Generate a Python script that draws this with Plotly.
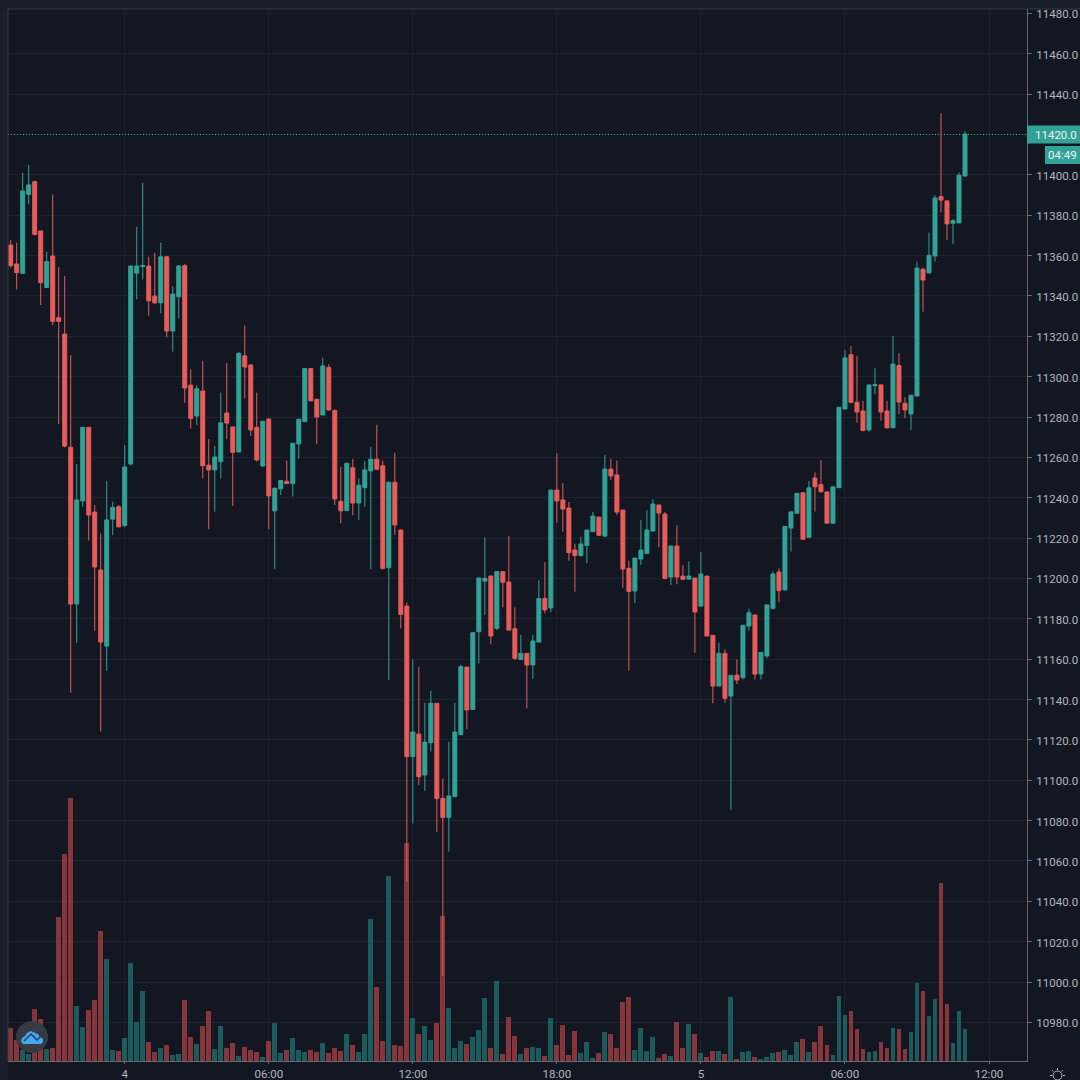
import pandas as pd
import plotly.graph_objects as go

# 15-minute candles, first bar at 2020-08-03 19:15
start = "2020-08-03 19:15"
opens = [11365.2,11355.8,11351.2,11390.3,11396.6,11372.2,11344.2,11359.8,11329.2,11321.1,
11265.0,11187.3,11238.4,11274.9,11232.9,11204.2,11166.5,11229.4,11235.5,11226.3,
11256.7,11351.3,11354.5,11354.8,11339.9,11336.6,11359.4,11322.6,11339.6,11355.0,
11295.8,11280.5,11292.9,11256.1,11253.8,11257.9,11282.0,11275.1,11262.7,11310.3,
11305.8,11274.9,11255.7,11279.0,11233.5,11244.4,11248.2,11247.0,11266.7,11277.7,
11304.0,11288.8,11281.0,11304.5,11283.2,11238.2,11233.6,11254.8,11237.4,11245.0,
11253.3,11259.1,11255.8,11205.3,11247.7,11224.0,11186.3,11111.7,11122.9,11102.6,
11118.6,11138.1,11091.0,11081.6,11091.9,11122.6,11156.1,11135.1,11173.6,11198.7,
11201.2,11175.3,11203.4,11198.2,11175.1,11159.9,11162.9,11157.1,11168.5,11190.1,
11185.4,11243.8,11238.9,11234.9,11214.1,11211.4,11216.4,11223.2,11230.4,11221.0,
11254.2,11251.3,11233.9,11205.0,11193.8,11209.6,11212.4,11223.5,11236.4,11231.9,
11200.7,11216.1,11201.2,11199.7,11200.2,11186.3,11201.2,11171.8,11146.7,11162.9,
11141.7,11152.1,11150.8,11176.4,11181.9,11152.7,11161.6,11185.2,11203.2,11194.3,
11225.0,11232.3,11242.5,11220.4,11249.8,11246.5,11242.9,11227.4,11245.0,11284.0,
11310.9,11287.3,11283.0,11273.6,11295.5,11295.9,11283.0,11274.7,11305.5,11286.8,
11281.5,11290.4,11353.2,11351.4,11359.8,11389.2,11387.1,11376.0,11376.2,11399.4]
highs = [11367.7,11366.4,11401.0,11404.9,11397.1,11372.2,11362.0,11390.3,11354.2,11349.9,
11310.7,11256.7,11275.0,11275.0,11236.4,11222.3,11248.4,11238.0,11236.4,11266.1,
11355.0,11374.3,11396.1,11359.4,11361.4,11366.4,11359.6,11344.9,11355.3,11355.8,
11303.6,11295.7,11307.9,11269.1,11265.7,11292.1,11306.6,11275.1,11312.1,11325.3,
11306.1,11292.1,11278.0,11279.2,11245.0,11248.8,11258.4,11267.1,11279.0,11304.2,
11304.2,11288.8,11309.4,11306.1,11283.8,11255.4,11257.2,11259.2,11249.5,11258.2,
11265.3,11276.1,11258.4,11247.9,11262.4,11224.3,11188.0,11159.9,11156.3,11138.4,
11144.4,11138.2,11100.9,11119.1,11138.4,11157.1,11156.2,11173.2,11200.3,11220.4,
11201.3,11203.5,11203.5,11221.0,11185.7,11172.0,11163.0,11172.0,11199.2,11208.0,
11244.0,11262.0,11247.1,11237.9,11217.1,11220.7,11224.1,11232.9,11230.5,11261.2,
11259.2,11258.4,11234.0,11208.8,11210.2,11229.0,11233.9,11239.2,11236.5,11232.9,
11216.2,11226.3,11206.5,11208.5,11200.3,11213.1,11201.3,11171.9,11168.2,11164.9,
11152.1,11159.9,11176.9,11185.0,11182.0,11163.4,11187.0,11203.4,11205.0,11225.8,
11233.1,11242.3,11242.6,11248.3,11252.5,11258.7,11243.0,11245.5,11284.9,11313.2,
11315.2,11310.3,11288.0,11296.0,11304.2,11296.0,11288.0,11320.2,11311.6,11289.8,
11290.9,11357.0,11354.0,11371.4,11389.9,11430.5,11387.2,11378.0,11401.1,11421.6]
lows = [11354.0,11343.2,11351.0,11385.4,11370.0,11335.5,11344.0,11325.6,11276.5,11265.0,
11143.4,11168.2,11235.5,11218.7,11174.1,11124.1,11154.3,11221.5,11225.3,11225.3,
11256.0,11338.3,11348.2,11330.2,11336.0,11331.4,11319.5,11312.4,11328.9,11287.1,
11274.4,11276.0,11249.6,11224.4,11233.1,11249.5,11269.0,11235.9,11262.5,11289.3,
11270.6,11257.9,11255.4,11224.4,11204.5,11241.4,11247.0,11240.6,11259.4,11277.5,
11288.0,11266.5,11281.0,11283.2,11236.4,11227.3,11233.5,11231.3,11229.0,11235.6,
11204.5,11254.0,11204.5,11149.7,11221.6,11175.3,11049.6,11078.6,11097.6,11094.7,
11114.2,11074.5,11003.0,11064.6,11091.8,11122.5,11125.2,11135.0,11157.9,11181.9,
11167.3,11174.4,11185.7,11174.3,11159.6,11159.6,11135.6,11150.2,11168.4,11182.7,
11183.3,11227.6,11223.2,11208.8,11193.4,11210.8,11207.5,11223.0,11221.0,11220.4,
11248.8,11231.4,11195.4,11154.3,11187.7,11206.7,11212.3,11223.4,11215.4,11199.6,
11196.7,11197.2,11199.5,11199.5,11163.2,11186.2,11171.4,11138.1,11146.6,11138.4,
11085.3,11147.7,11150.0,11174.1,11150.0,11150.0,11160.4,11184.7,11188.2,11194.0,
11213.3,11232.2,11219.1,11220.3,11233.1,11242.5,11227.3,11227.0,11244.9,11283.9,
11286.8,11277.2,11272.9,11272.8,11291.3,11278.1,11274.5,11274.5,11281.5,11279.4,
11273.6,11290.3,11332.2,11351.3,11357.0,11381.4,11367.7,11365.7,11376.1,11399.3]
closes = [11355.0,11351.5,11392.0,11395.0,11370.5,11346.6,11357.0,11327.4,11327.4,11265.6,
11187.3,11238.9,11274.9,11231.4,11205.7,11168.5,11229.0,11235.2,11225.6,11255.2,
11354.8,11354.8,11355.0,11337.6,11336.6,11359.4,11322.6,11340.9,11354.8,11294.4,
11279.3,11294.0,11255.9,11253.8,11260.2,11277.1,11277.0,11262.5,11311.6,11304.8,
11273.6,11258.7,11277.9,11240.9,11244.7,11248.5,11247.0,11267.0,11278.9,11304.0,
11288.0,11280.0,11305.3,11283.5,11239.4,11233.5,11257.1,11237.4,11246.2,11253.8,
11259.1,11254.1,11205.0,11247.7,11226.5,11182.2,11111.7,11123.9,11101.8,11118.9,
11138.1,11090.9,11081.6,11092.2,11123.9,11156.3,11134.8,11173.1,11200.2,11200.0,
11171.5,11203.4,11198.1,11174.4,11160.4,11162.9,11157.1,11169.0,11190.1,11184.4,
11243.8,11238.4,11234.4,11212.8,11211.4,11217.1,11224.0,11230.9,11221.4,11254.2,
11250.8,11232.9,11204.7,11193.6,11210.1,11214.1,11224.0,11236.9,11232.4,11200.0,
11216.1,11200.7,11199.6,11201.2,11183.4,11202.2,11171.5,11146.7,11162.9,11140.6,
11152.0,11149.7,11176.8,11183.0,11152.6,11163.3,11186.9,11202.2,11194.0,11225.7,
11233.0,11242.2,11219.4,11244.9,11245.4,11243.0,11227.4,11245.4,11284.8,11309.3,
11287.3,11282.5,11273.3,11295.9,11296.0,11282.5,11274.6,11306.2,11287.4,11283.5,
11290.8,11353.8,11347.9,11360.1,11388.5,11387.5,11375.7,11377.3,11399.8,11420.2]
volumes = [33,21,11,7,52,42,12,13,144,207,263,55,34,51,61,130,102,11,10,23,
98,39,70,19,9,13,16,6,7,61,24,17,35,50,12,35,13,18,5,14,
11,9,4,20,38,8,11,23,11,9,11,9,18,8,13,10,27,16,9,27,
142,74,20,185,16,15,218,43,27,35,21,38,145,53,13,20,17,24,31,63,
13,80,7,44,25,7,13,14,13,5,43,16,36,6,30,8,19,3,8,29,
27,13,59,64,11,33,10,24,3,7,5,39,13,37,27,8,4,10,10,7,
64,2,9,10,4,2,4,8,9,11,6,19,22,9,19,35,16,6,65,46,
50,32,12,9,10,19,13,33,32,12,29,78,70,45,62,178,57,18,50,32]

price_ticks = list(range(10980, 11481, 20))
time_tick_vals = ["2020-08-04 00:00","2020-08-04 06:00","2020-08-04 12:00","2020-08-04 18:00",
                  "2020-08-05 00:00","2020-08-05 06:00","2020-08-05 12:00"]
time_tick_text = ["4","06:00","12:00","18:00","5","06:00","12:00"]
last_price = 11420.0
countdown = "04:49"

UP, DOWN = "#32a297", "#e85c5a"
BG = "#131722"
OUTER = "#1a1e2b"
GRID = "#1e222e"
LINE = "#666973"
TEXT = "#b2b5be"
FONT = "Roboto"

times = pd.date_range(start, periods=len(opens), freq="15min")
step = pd.Timedelta(minutes=15)
x0 = times[0] - 0.45 * step
x1 = times[0] + 169.33 * step

L, R, T, B = 8, 1027, 9, 1061
def px(x): return (x - L) / (R - L)
def py(y): return (B - y) / (B - T)

vol_colors = ["rgba(38,166,154,0.48)" if c >= o else "rgba(239,83,80,0.52)"
              for o, c in zip(opens, closes)]

fig = go.Figure()
fig.add_bar(x=times, y=volumes, marker=dict(color=vol_colors, line_width=0),
            yaxis="y", hoverinfo="skip", width=0.82 * 15 * 60000)
fig.add_candlestick(x=times, open=opens, high=highs, low=lows, close=closes, yaxis="y2",
                    increasing=dict(line=dict(color=UP, width=1), fillcolor=UP),
                    decreasing=dict(line=dict(color=DOWN, width=1), fillcolor=DOWN),
                    whiskerwidth=0)

def poly(points, close=True):
    d = " ".join(("M" if k == 0 else "L") + f" {px(a)} {py(b)}" for k, (a, b) in enumerate(points))
    return d + (" Z" if close else "")

shapes = [
    dict(type="rect", xref="paper", yref="paper", x0=1, x1=px(1080), y0=py(1080), y1=1,
         fillcolor=BG, line_width=0, layer="below"),
    dict(type="rect", xref="paper", yref="paper", x0=0, x1=px(1080), y0=py(1080), y1=0,
         fillcolor=BG, line_width=0, layer="below"),
    dict(type="line", xref="paper", yref="y2", x0=0, x1=1, y0=last_price, y1=last_price,
         line=dict(color=UP, width=1, dash="1px,2px")),
    dict(type="line", xref="paper", yref="paper", x0=0, x1=0, y0=0, y1=1, line=dict(color="#363a45", width=1)),
    dict(type="line", xref="paper", yref="paper", x0=0, x1=px(1080), y0=1, y1=1, line=dict(color="#363a45", width=1)),
    # price and countdown label boxes
    dict(type="rect", xref="paper", yref="paper", x0=1, x1=px(1080), y0=py(143.5), y1=py(125.5),
         fillcolor=UP, line_width=0),
    dict(type="rect", xref="paper", yref="paper", x0=px(1045), x1=px(1080), y0=py(164), y1=py(146),
         fillcolor=UP, line_width=0),
    # logo disc, cloud and zigzag
    dict(type="circle", xref="paper", yref="paper", x0=px(16), x1=px(48), y0=py(1053), y1=py(1021),
         fillcolor="#363a45", line_width=0),
    dict(type="path", xref="paper", yref="paper",
         path=poly([(21,1041),(22,1038),(25,1036),(27,1033),(31,1031),(35,1033),(38,1034),(40,1037),
                    (43,1039),(43,1042),(41,1044),(23,1044)]),
         fillcolor="#45a6f2", line_width=0),
    dict(type="path", xref="paper", yref="paper",
         path=poly([(24,1041),(31,1034),(37,1040),(41,1036)], close=False),
         line=dict(color="#2a3f5f", width=1.5)),
    # settings icon
    dict(type="circle", xref="paper", yref="paper", x0=px(1053), x1=px(1062), y0=py(1080), y1=py(1071),
         line=dict(color=TEXT, width=1)),
]
for a, b, c, d in [(1057.5,1068,1057.5,1070),(1050,1075.5,1052,1075.5),(1063,1075.5,1065,1075.5),
                   (1052,1070,1053.5,1071.5),(1063,1070,1061.5,1071.5)]:
    shapes.append(dict(type="line", xref="paper", yref="paper", x0=px(a), x1=px(c), y0=py(b), y1=py(d),
                       line=dict(color=TEXT, width=1)))

annotations = [
    dict(xref="paper", yref="y2", x=px(1078), y=last_price, xanchor="right", yanchor="middle",
         text=f"{last_price:.1f}", showarrow=False, borderpad=0,
         font=dict(family=FONT, size=11.5, color="#e8f5f3")),
    dict(xref="paper", yref="paper", x=px(1078), y=py(155), xanchor="right", yanchor="middle",
         text=countdown, showarrow=False, borderpad=0,
         font=dict(family=FONT, size=11.5, color="#e8f5f3")),
]

# the last price sits in its own box, so the axis leaves that tick label blank
price_labels = ["" if v == last_price else f"{v:.1f}" for v in price_ticks]

fig.update_layout(
    width=1080, height=1080, margin=dict(l=L, r=1080 - R, t=T, b=1080 - B, autoexpand=False),
    paper_bgcolor=OUTER, plot_bgcolor=BG, showlegend=False, bargap=0, boxgap=0.05,
    font=dict(family=FONT, size=11.5, color=TEXT),
    shapes=shapes, annotations=annotations,
    xaxis=dict(type="date", range=[x0, x1], rangeslider_visible=False,
               tickmode="array", tickvals=time_tick_vals, ticktext=time_tick_text,
               showgrid=True, gridcolor=GRID, gridwidth=1, ticks="outside", ticklen=2, tickcolor=LINE,
               showline=True, linecolor=LINE, linewidth=1, zeroline=False,
               tickfont=dict(family=FONT, size=11.5, color=TEXT)),
    yaxis=dict(range=[0, B - T], showgrid=False, showticklabels=False, zeroline=False, ticks=""),
    yaxis2=dict(overlaying="y", side="right",
                range=[11420 - (1061 - 134.5) / 2.018, 11420 + (134.5 - 9) / 2.018],
                tickmode="array", tickvals=price_ticks, ticktext=price_labels,
                showgrid=True, gridcolor=GRID, gridwidth=1, ticks="outside", ticklen=4, tickcolor=LINE,
                ticklabelstandoff=2, ticklabelshift=1,
                showline=True, linecolor=LINE, linewidth=1, zeroline=False,
                tickfont=dict(family=FONT, size=11.5, color=TEXT)),
)

fig.write_html("out.html", config=dict(displayModeBar=False),
               post_script="document.body.style.margin='0';document.body.style.background='#131722';")
